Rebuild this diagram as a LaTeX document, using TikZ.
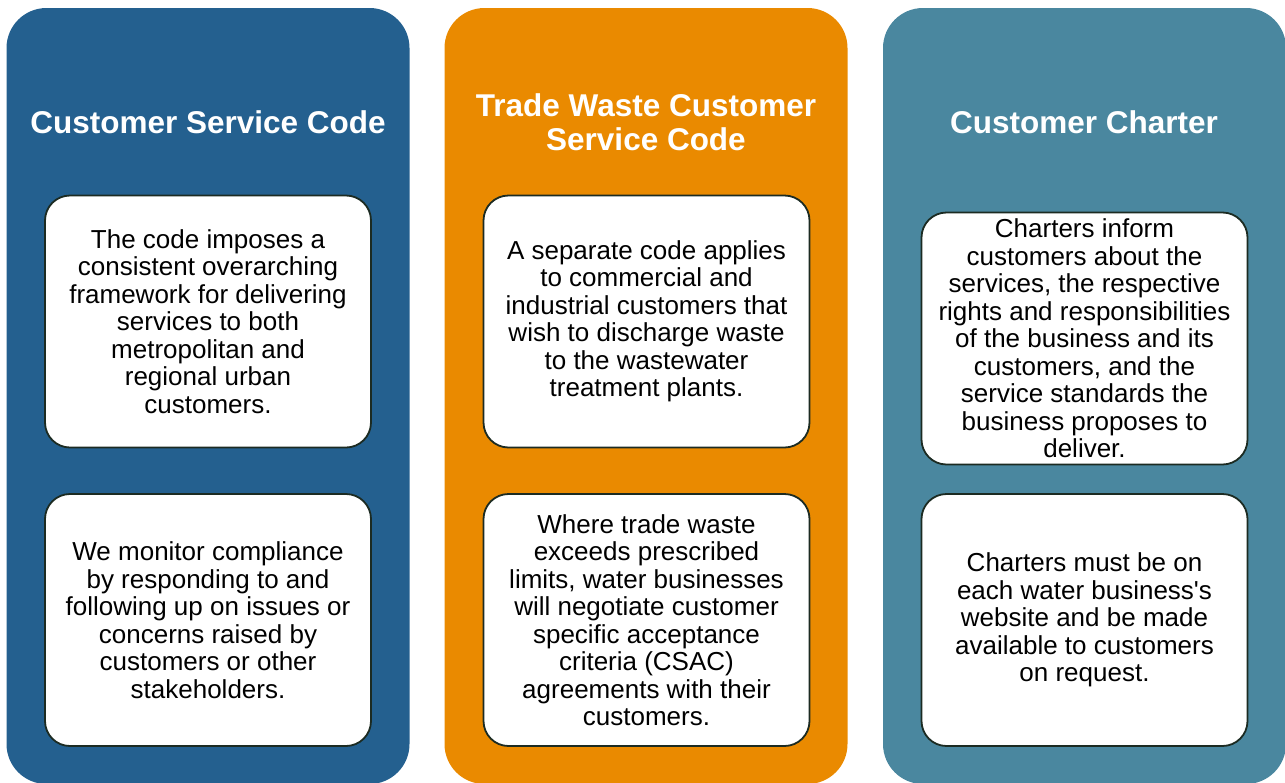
\documentclass[tikz,border=0pt]{standalone}
\usepackage{fontspec}
\setmainfont{Liberation Sans}
\usetikzlibrary{positioning}
\definecolor{csblue}{HTML}{24608F}
\definecolor{tworange}{HTML}{EA8A00}
\definecolor{chteal}{HTML}{4A879F}
\definecolor{edgedark}{HTML}{1C2B22}

\begin{document}
\begin{tikzpicture}[x=1pt, y=1pt,
  column/.style = {rounded corners=40pt, minimum width=403pt, minimum height=776pt, inner sep=0pt},
  title/.style = {text=white, font=\fontsize{31.5}{33.5}\selectfont\bfseries, align=center},
  card/.style = {draw=edgedark, line width=1.8pt, fill=white, rounded corners=25pt,
                 minimum width=326pt, minimum height=252pt, inner sep=0pt, align=center,
                 font=\fontsize{26}{27.5}\selectfont}]
  \useasboundingbox (0,0) rectangle (1285,-782);

  \node[column, fill=csblue]   (c1) at (208,-396)    {};
  \node[column, fill=tworange] (c2) at (646,-396)    {};
  \node[column, fill=chteal]   (c3) at (1084.5,-396) {};

  \node[title] (t1) at (208,-122)  {Customer Service Code};
  \node[title] (t2) at (646,-122)  {Trade Waste Customer\\Service Code};
  \node[title] (t3) at (1084,-122) {Customer Charter};

  \node[card] (b1) at (208,-321.5) {The code imposes a\\consistent overarching\\framework for delivering\\services to both\\metropolitan and\\regional urban\\customers.};
  \node[card] (b2) at (208,-620)   {We monitor compliance\\by responding to and\\following up on issues or\\concerns raised by\\customers or other\\stakeholders.};

  \node[card] (b3) at (646.5,-321.5) {A separate code applies\\to commercial and\\industrial customers that\\wish to discharge waste\\to the wastewater\\treatment plants.};
  \node[card] (b4) at (646.5,-620)   {Where trade waste\\exceeds prescribed\\limits, water businesses\\will negotiate customer\\specific acceptance\\criteria (CSAC)\\agreements with their\\customers.};

  \node[card] (b5) at (1084.5,-338.5) {Charters inform\\customers about the\\services, the respective\\rights and responsibilities\\of the business and its\\customers, and the\\service standards the\\business proposes to\\deliver.};
  \node[card] (b6) at (1084.5,-620)   {Charters must be on\\each water business\textquotesingle s\\website and be made\\available to customers\\on request.};
\end{tikzpicture}
\end{document}
